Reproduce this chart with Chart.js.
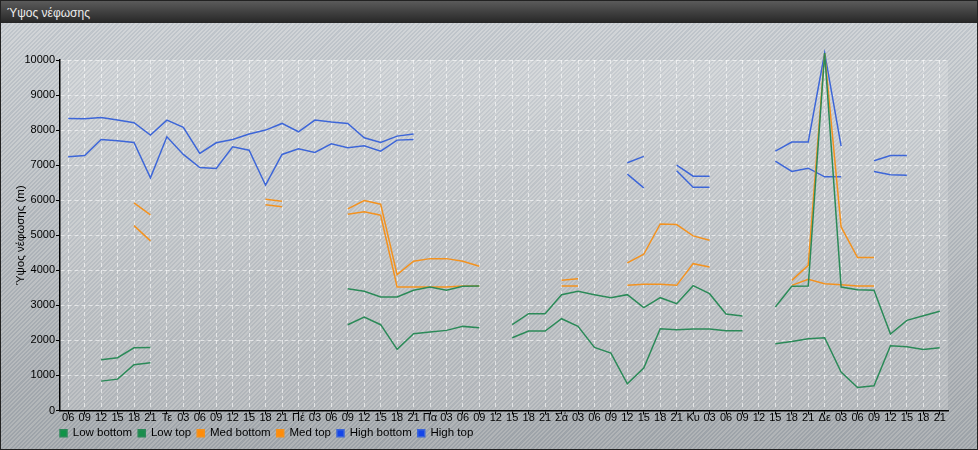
<!DOCTYPE html>
<html>
<head>
<meta charset="utf-8">
<script src="https://cdn.jsdelivr.net/npm/chart.js@4"></script>
<style>
  html, body { margin:0; padding:0; }
  body { width:978px; height:450px; overflow:hidden; }
  #box {
    position:relative; width:976px; height:448px; border:1px solid #222;
    background:
      repeating-linear-gradient(135deg, rgba(255,255,255,0.13) 0 1.5px, rgba(90,110,140,0.10) 1.5px 3px),
      linear-gradient(#cdd1d4, #a4a8ab);
  }
  #head {
    position:absolute; left:0; top:0; width:976px; height:22px;
    background:linear-gradient(#5b5b5b, #262626);
    color:#ececec; font:12px "Liberation Sans", Arial, sans-serif;
    line-height:24px; padding-left:6px; box-sizing:border-box; z-index:2;
  }
  #cv { position:absolute; left:-1px; top:-1px; }
</style>
</head>
<body>
<div id="box">
  <div id="head">Ύψος νέφωσης</div>
  <canvas id="cv" width="978" height="450"></canvas>
</div>
<script>
// cloud height chart

const labels = ['06','09','12','15','18','21','Τε','03','06','09','12','15','18','21','Πέ','03','06','09','12','15','18','21','Πα','03','06','09','12','15','18','21','Σά','03','06','09','12','15','18','21','Κυ','03','06','09','12','15','18','21','Δε','03','06','09','12','15','18','21'];

const lowBottom = [null,null,838,895,1305,1362, null,null,null,null,null,null,null,null, null,null,null,2448,2667,2448,1743,2190, 2238,2286,2400,2362,null,2076,2267,2267, 2619,2400,1800,1638,762,1210,2333,2305, 2324,2324,2276,2276,null,1905,1971,2048, 2076,1095,657,705,1848,1819,1743,1790];
const lowTop = [null,null,1448,1505,1790,1800, null,null,null,null,null,null,null,null, null,null,null,3476,3400,3238,3238,3429, 3524,3429,3543,3552,null,2448,2762,2762, 3305,3400,3305,3219,3305,2933,3219,3048, 3562,3333,2752,2695,null,2952,3543,3552, 10200,3524,3448,3429,2181,2571,2705,2829];
const medBottom = [null,null,null,null,5276,4840, null,null,null,null,null,null,5867,5810, null,null,null,5600,5667,5571,3524,3524, 3524,3524,3552,3552,null,null,null,null, 3552,3552,null,null,3571,3600,3600,3571, 4190,4095,null,null,null,null,3571,3743, 3619,3590,3552,3552,null,null,null,null];
const medTop = [null,null,null,null,5924,5581, null,null,null,null,null,null,6029,5971, null,null,null,5752,5990,5886,3876,4257, 4333,4333,4257,4114,null,null,null,null, 3714,3762,null,null,4210,4457,5324,5305, 4981,4857,null,null,null,null,3714,4143, 10200,5238,4362,4362,null,null,null,null];
const highBottom = [7238,7276,7733,7695,7648,6638, 7810,7305,6933,6905,7524,7428,6428,7305, 7467,7362,7610,7495,7552,7400,7714,7733, null,null,null,null,null,null,null,null, null,null,null,null,6743,6350,null,6838, 6371,6371,null,null,null,7114,6819,6914, 6667,6667,null,6819,6724,6714,null,null];
const highTop = [8334,8325,8360,8285,8210,7857, 8285,8076,7333,7638,7733,7886,8000,8190, 7952,8285,8228,8190,7780,7648,7828,7886, null,null,null,null,null,null,null,null, null,null,null,null,7067,7250,null,7000, 6686,6686,null,null,null,7400,7657,7657, 10200,7543,null,7124,7276,7276,null,null];

const FONT = '"Liberation Sans", Arial, sans-serif';
const GREEN = '#2b8a58', ORANGE = '#f3921f', BLUE = '#3d66d8';

function ds(label, data, line, box) {
  return { label: label, data: data, borderColor: line, backgroundColor: box,
    borderWidth: 1.5, pointRadius: 0, pointHoverRadius: 0, tension: 0,
    spanGaps: false, clip: false };
}

const plotBg = {
  id: 'plotBg',
  beforeDraw(chart) {
    const a = chart.chartArea, c = chart.ctx;
    c.save();
    c.fillStyle = 'rgba(255,255,255,0.16)';
    c.fillRect(a.left, a.top, a.right - a.left, a.bottom - a.top);
    c.restore();
    chart.legend.left = a.left - 6;
  }
};

new Chart(document.getElementById('cv'), {
  type: 'line',
  data: {
    labels: labels,
    datasets: [
      ds('Low bottom', lowBottom, GREEN, '#109447'),
      ds('Low top', lowTop, GREEN, '#1a8e4c'),
      ds('Med bottom', medBottom, ORANGE, '#ff8c0a'),
      ds('Med top', medTop, ORANGE, '#ff8c0a'),
      ds('High bottom', highBottom, BLUE, '#1646e8'),
      ds('High top', highTop, BLUE, '#1646e8')
    ]
  },
  options: {
    responsive: false,
    animation: false,
    layout: { padding: { left: 10, right: 30, top: 60, bottom: 1 } },
    plugins: {
      tooltip: { enabled: false },
      legend: {
        position: 'bottom', align: 'start', fullSize: false,
        labels: { boxWidth: 7, boxHeight: 7, padding: 6, color: '#000',
          font: { family: FONT, size: 11.5 } }
      }
    },
    scales: {
      x: {
        offset: true,
        grid: { offset: false, color: 'rgba(255,255,255,0.6)', tickColor: '#000', tickLength: 4, drawTicks: true },
        border: { display: true, color: '#000', width: 1.5, dash: [4, 3] },
        ticks: { autoSkip: false, maxRotation: 0, minRotation: 0, padding: -3, color: '#000',
          font: { family: FONT, size: 11 } },
        afterFit(s) { s.height = 11; }
      },
      y: {
        min: 0, max: 10000,
        grid: { color: 'rgba(255,255,255,0.6)', tickColor: '#000', tickLength: 4 },
        border: { display: true, color: '#000', width: 1.5, dash: [4, 3] },
        ticks: { stepSize: 1000, padding: 1, color: '#000', font: { family: FONT, size: 11 },
          callback: v => String(v) },
        title: { display: true, text: 'Ύψος νέφωσης (m)', color: '#000', padding: { top: 4, bottom: 0 },
          font: { family: FONT, size: 11.5 } },
        afterFit(s) { s.width = 50; }
      }
    }
  },
  plugins: [plotBg]
});
</script>
</body>
</html>
